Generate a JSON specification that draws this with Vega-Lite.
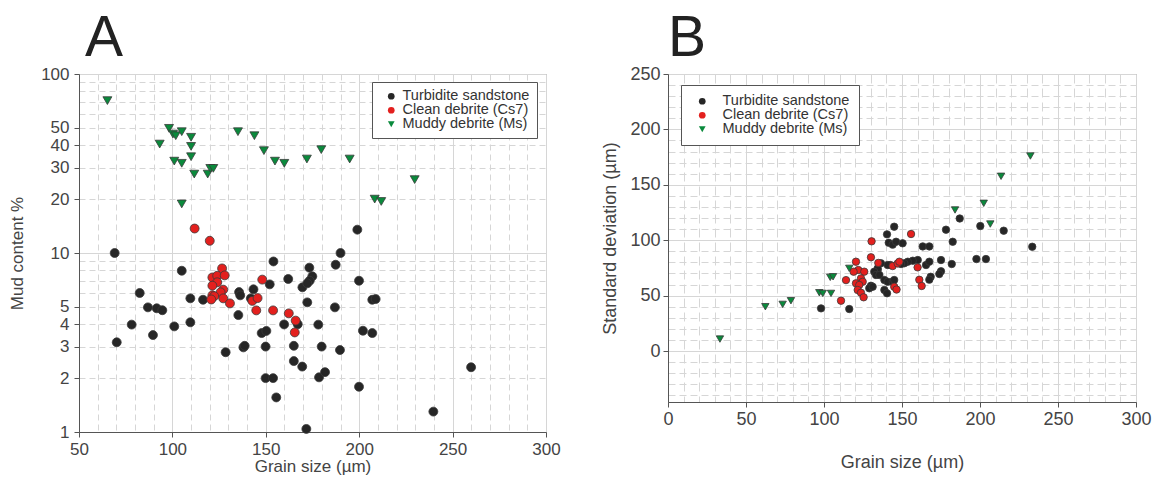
{
  "$schema": "https://vega.github.io/schema/vega-lite/v6.json",
  "background": "white",
  "padding": {"left": 8, "top": 9, "right": 4, "bottom": 0},
  "spacing": 40,
  "config": {
    "font": "Liberation Sans",
    "view": {"stroke": "#8a8a8a", "strokeWidth": 1},
    "axis": {
      "labelFont": "Liberation Sans",
      "titleFont": "Liberation Sans",
      "labelColor": "#444",
      "titleColor": "#444",
      "titleFontWeight": "normal",
      "domainColor": "#555",
      "tickColor": "#555",
      "gridColor": "#d6d6d6",
      "gridWidth": 1,
      "labelFlush": false
    },
    "legend": {
      "labelFont": "Liberation Sans",
      "labelColor": "#333",
      "fillColor": "white",
      "strokeColor": "#666"
    },
    "title": {"font": "Liberation Sans", "fontWeight": "normal", "color": "#222", "anchor": "start", "frame": "group"}
  },
  "datasets": {
    "a": [
      {"g": "Turbidite sandstone", "x": 69.1, "y": 10},
      {"g": "Turbidite sandstone", "x": 70.2, "y": 3.17},
      {"g": "Turbidite sandstone", "x": 78.2, "y": 3.98},
      {"g": "Turbidite sandstone", "x": 82.5, "y": 5.98},
      {"g": "Turbidite sandstone", "x": 86.9, "y": 4.97},
      {"g": "Turbidite sandstone", "x": 89.6, "y": 3.48},
      {"g": "Turbidite sandstone", "x": 91.6, "y": 4.91},
      {"g": "Turbidite sandstone", "x": 94.6, "y": 4.79},
      {"g": "Turbidite sandstone", "x": 101, "y": 3.89},
      {"g": "Turbidite sandstone", "x": 105, "y": 7.96},
      {"g": "Turbidite sandstone", "x": 109.6, "y": 5.58},
      {"g": "Turbidite sandstone", "x": 109.6, "y": 4.1},
      {"g": "Turbidite sandstone", "x": 116.4, "y": 5.48},
      {"g": "Turbidite sandstone", "x": 128.5, "y": 2.79},
      {"g": "Turbidite sandstone", "x": 135.3, "y": 4.5},
      {"g": "Turbidite sandstone", "x": 135.7, "y": 6.05},
      {"g": "Turbidite sandstone", "x": 136.3, "y": 5.8},
      {"g": "Turbidite sandstone", "x": 138, "y": 2.97},
      {"g": "Turbidite sandstone", "x": 138.7, "y": 3.03},
      {"g": "Turbidite sandstone", "x": 143.4, "y": 6.27},
      {"g": "Turbidite sandstone", "x": 142, "y": 5.58},
      {"g": "Turbidite sandstone", "x": 147.8, "y": 3.57},
      {"g": "Turbidite sandstone", "x": 150.3, "y": 3.67},
      {"g": "Turbidite sandstone", "x": 149.9, "y": 3.0},
      {"g": "Turbidite sandstone", "x": 149.9, "y": 2.0},
      {"g": "Turbidite sandstone", "x": 153.9, "y": 2.0},
      {"g": "Turbidite sandstone", "x": 155.6, "y": 1.56},
      {"g": "Turbidite sandstone", "x": 152.1, "y": 6.68},
      {"g": "Turbidite sandstone", "x": 154.1, "y": 8.97},
      {"g": "Turbidite sandstone", "x": 159.8, "y": 3.99},
      {"g": "Turbidite sandstone", "x": 162, "y": 7.16},
      {"g": "Turbidite sandstone", "x": 165, "y": 3.03},
      {"g": "Turbidite sandstone", "x": 165, "y": 2.49},
      {"g": "Turbidite sandstone", "x": 167.1, "y": 4.0},
      {"g": "Turbidite sandstone", "x": 169.5, "y": 2.32},
      {"g": "Turbidite sandstone", "x": 169.6, "y": 6.43},
      {"g": "Turbidite sandstone", "x": 171.7, "y": 1.04},
      {"g": "Turbidite sandstone", "x": 172.2, "y": 5.3},
      {"g": "Turbidite sandstone", "x": 173.3, "y": 8.28},
      {"g": "Turbidite sandstone", "x": 174.9, "y": 7.41},
      {"g": "Turbidite sandstone", "x": 173.5, "y": 7.0},
      {"g": "Turbidite sandstone", "x": 172.2, "y": 6.77},
      {"g": "Turbidite sandstone", "x": 178.1, "y": 3.98},
      {"g": "Turbidite sandstone", "x": 179.9, "y": 3.0},
      {"g": "Turbidite sandstone", "x": 178.5, "y": 2.02},
      {"g": "Turbidite sandstone", "x": 181.7, "y": 2.16},
      {"g": "Turbidite sandstone", "x": 187, "y": 4.97},
      {"g": "Turbidite sandstone", "x": 187.4, "y": 8.6},
      {"g": "Turbidite sandstone", "x": 190, "y": 10},
      {"g": "Turbidite sandstone", "x": 189.7, "y": 2.87},
      {"g": "Turbidite sandstone", "x": 199, "y": 13.5},
      {"g": "Turbidite sandstone", "x": 199.9, "y": 7.0},
      {"g": "Turbidite sandstone", "x": 199.9, "y": 1.79},
      {"g": "Turbidite sandstone", "x": 202, "y": 3.68},
      {"g": "Turbidite sandstone", "x": 207, "y": 3.57},
      {"g": "Turbidite sandstone", "x": 207, "y": 5.48},
      {"g": "Turbidite sandstone", "x": 208.8, "y": 5.53},
      {"g": "Turbidite sandstone", "x": 239.7, "y": 1.3},
      {"g": "Turbidite sandstone", "x": 259.9, "y": 2.3},
      {"g": "Clean debrite (Cs7)", "x": 111.9, "y": 13.7},
      {"g": "Clean debrite (Cs7)", "x": 120, "y": 11.7},
      {"g": "Clean debrite (Cs7)", "x": 126.6, "y": 8.2},
      {"g": "Clean debrite (Cs7)", "x": 121.4, "y": 7.3},
      {"g": "Clean debrite (Cs7)", "x": 124, "y": 7.46},
      {"g": "Clean debrite (Cs7)", "x": 128, "y": 7.5},
      {"g": "Clean debrite (Cs7)", "x": 124, "y": 6.86},
      {"g": "Clean debrite (Cs7)", "x": 121.4, "y": 6.57},
      {"g": "Clean debrite (Cs7)", "x": 127.2, "y": 6.24},
      {"g": "Clean debrite (Cs7)", "x": 125.8, "y": 6.03},
      {"g": "Clean debrite (Cs7)", "x": 121.4, "y": 5.8},
      {"g": "Clean debrite (Cs7)", "x": 122.4, "y": 5.74},
      {"g": "Clean debrite (Cs7)", "x": 120.8, "y": 5.5},
      {"g": "Clean debrite (Cs7)", "x": 127.2, "y": 5.58},
      {"g": "Clean debrite (Cs7)", "x": 130.8, "y": 5.23},
      {"g": "Clean debrite (Cs7)", "x": 148.1, "y": 7.1},
      {"g": "Clean debrite (Cs7)", "x": 142.8, "y": 5.4},
      {"g": "Clean debrite (Cs7)", "x": 145.6, "y": 5.6},
      {"g": "Clean debrite (Cs7)", "x": 144.9, "y": 4.78},
      {"g": "Clean debrite (Cs7)", "x": 153.9, "y": 4.78},
      {"g": "Clean debrite (Cs7)", "x": 162.3, "y": 4.6},
      {"g": "Clean debrite (Cs7)", "x": 166, "y": 4.19},
      {"g": "Clean debrite (Cs7)", "x": 165.5, "y": 3.6},
      {"g": "Muddy debrite (Ms)", "x": 65.2, "y": 71},
      {"g": "Muddy debrite (Ms)", "x": 98.2, "y": 49.7},
      {"g": "Muddy debrite (Ms)", "x": 100.3, "y": 46.2},
      {"g": "Muddy debrite (Ms)", "x": 101.8, "y": 45.2},
      {"g": "Muddy debrite (Ms)", "x": 105, "y": 47.6},
      {"g": "Muddy debrite (Ms)", "x": 110, "y": 44.3},
      {"g": "Muddy debrite (Ms)", "x": 93.2, "y": 40.6},
      {"g": "Muddy debrite (Ms)", "x": 110, "y": 39.4},
      {"g": "Muddy debrite (Ms)", "x": 110, "y": 34.5},
      {"g": "Muddy debrite (Ms)", "x": 101, "y": 32.6},
      {"g": "Muddy debrite (Ms)", "x": 105, "y": 31.7},
      {"g": "Muddy debrite (Ms)", "x": 111.7, "y": 27.6},
      {"g": "Muddy debrite (Ms)", "x": 118.9, "y": 27.6},
      {"g": "Muddy debrite (Ms)", "x": 120.3, "y": 29.7},
      {"g": "Muddy debrite (Ms)", "x": 121.9, "y": 29.7},
      {"g": "Muddy debrite (Ms)", "x": 105, "y": 18.8},
      {"g": "Muddy debrite (Ms)", "x": 135.1, "y": 47.6},
      {"g": "Muddy debrite (Ms)", "x": 143.9, "y": 45.2},
      {"g": "Muddy debrite (Ms)", "x": 149, "y": 37.3},
      {"g": "Muddy debrite (Ms)", "x": 154.9, "y": 32.6},
      {"g": "Muddy debrite (Ms)", "x": 159.9, "y": 31.7},
      {"g": "Muddy debrite (Ms)", "x": 172, "y": 33.5},
      {"g": "Muddy debrite (Ms)", "x": 179.7, "y": 37.8},
      {"g": "Muddy debrite (Ms)", "x": 194.9, "y": 33.5},
      {"g": "Muddy debrite (Ms)", "x": 229.7, "y": 25.7},
      {"g": "Muddy debrite (Ms)", "x": 208.3, "y": 20},
      {"g": "Muddy debrite (Ms)", "x": 211.8, "y": 19.4}
    ],
    "b": [
      {"g": "Turbidite sandstone", "x": 98.1, "y": 38.5},
      {"g": "Turbidite sandstone", "x": 116.2, "y": 37.9},
      {"g": "Turbidite sandstone", "x": 130.1, "y": 58.9},
      {"g": "Turbidite sandstone", "x": 134.4, "y": 73.1},
      {"g": "Turbidite sandstone", "x": 145, "y": 112.2},
      {"g": "Turbidite sandstone", "x": 140.4, "y": 105.3},
      {"g": "Turbidite sandstone", "x": 141.5, "y": 97.7},
      {"g": "Turbidite sandstone", "x": 144, "y": 96},
      {"g": "Turbidite sandstone", "x": 146.2, "y": 98.6},
      {"g": "Turbidite sandstone", "x": 150.4, "y": 97.2},
      {"g": "Turbidite sandstone", "x": 178.2, "y": 109.5},
      {"g": "Turbidite sandstone", "x": 182.5, "y": 98.6},
      {"g": "Turbidite sandstone", "x": 187, "y": 119.6},
      {"g": "Turbidite sandstone", "x": 200.2, "y": 112.8},
      {"g": "Turbidite sandstone", "x": 215.2, "y": 108.6},
      {"g": "Turbidite sandstone", "x": 233.5, "y": 94.1},
      {"g": "Turbidite sandstone", "x": 163.3, "y": 94.4},
      {"g": "Turbidite sandstone", "x": 167.5, "y": 94.4},
      {"g": "Turbidite sandstone", "x": 197.7, "y": 83},
      {"g": "Turbidite sandstone", "x": 203.8, "y": 83},
      {"g": "Turbidite sandstone", "x": 175, "y": 82.1},
      {"g": "Turbidite sandstone", "x": 181.9, "y": 78.5},
      {"g": "Turbidite sandstone", "x": 175, "y": 72},
      {"g": "Turbidite sandstone", "x": 173.9, "y": 69.5},
      {"g": "Turbidite sandstone", "x": 168.4, "y": 67},
      {"g": "Turbidite sandstone", "x": 167.5, "y": 64.4},
      {"g": "Turbidite sandstone", "x": 160.1, "y": 82.1},
      {"g": "Turbidite sandstone", "x": 156.9, "y": 81.5},
      {"g": "Turbidite sandstone", "x": 153.7, "y": 80.6},
      {"g": "Turbidite sandstone", "x": 151.5, "y": 79.2},
      {"g": "Turbidite sandstone", "x": 149.4, "y": 78.5},
      {"g": "Turbidite sandstone", "x": 142.5, "y": 77.6},
      {"g": "Turbidite sandstone", "x": 140.8, "y": 77.6},
      {"g": "Turbidite sandstone", "x": 136.5, "y": 79.2},
      {"g": "Turbidite sandstone", "x": 134.4, "y": 74.6},
      {"g": "Turbidite sandstone", "x": 132.2, "y": 71.6},
      {"g": "Turbidite sandstone", "x": 133.3, "y": 68.6},
      {"g": "Turbidite sandstone", "x": 135.5, "y": 68.6},
      {"g": "Turbidite sandstone", "x": 138.7, "y": 64.1},
      {"g": "Turbidite sandstone", "x": 140.8, "y": 62.5},
      {"g": "Turbidite sandstone", "x": 144, "y": 62.5},
      {"g": "Turbidite sandstone", "x": 145, "y": 64.1},
      {"g": "Turbidite sandstone", "x": 138.7, "y": 55.1},
      {"g": "Turbidite sandstone", "x": 140.4, "y": 52.1},
      {"g": "Turbidite sandstone", "x": 129, "y": 56.6},
      {"g": "Turbidite sandstone", "x": 131.2, "y": 58},
      {"g": "Turbidite sandstone", "x": 165.4, "y": 77.6},
      {"g": "Turbidite sandstone", "x": 167.5, "y": 80.6},
      {"g": "Clean debrite (Cs7)", "x": 130.5, "y": 99},
      {"g": "Clean debrite (Cs7)", "x": 155.8, "y": 105.6},
      {"g": "Clean debrite (Cs7)", "x": 130.1, "y": 84.6},
      {"g": "Clean debrite (Cs7)", "x": 134.8, "y": 79.5},
      {"g": "Clean debrite (Cs7)", "x": 144, "y": 76.7},
      {"g": "Clean debrite (Cs7)", "x": 147.2, "y": 79},
      {"g": "Clean debrite (Cs7)", "x": 148.3, "y": 80.6},
      {"g": "Clean debrite (Cs7)", "x": 160, "y": 75.5},
      {"g": "Clean debrite (Cs7)", "x": 161.1, "y": 64.3},
      {"g": "Clean debrite (Cs7)", "x": 162.6, "y": 58.7},
      {"g": "Clean debrite (Cs7)", "x": 145, "y": 58},
      {"g": "Clean debrite (Cs7)", "x": 146.5, "y": 55.5},
      {"g": "Clean debrite (Cs7)", "x": 120.5, "y": 80.6},
      {"g": "Clean debrite (Cs7)", "x": 122, "y": 73.1},
      {"g": "Clean debrite (Cs7)", "x": 125.8, "y": 71.6},
      {"g": "Clean debrite (Cs7)", "x": 119, "y": 71.6},
      {"g": "Clean debrite (Cs7)", "x": 114.1, "y": 64},
      {"g": "Clean debrite (Cs7)", "x": 123.7, "y": 65.6},
      {"g": "Clean debrite (Cs7)", "x": 124.8, "y": 62.5},
      {"g": "Clean debrite (Cs7)", "x": 120.5, "y": 61.1},
      {"g": "Clean debrite (Cs7)", "x": 122.6, "y": 59.6},
      {"g": "Clean debrite (Cs7)", "x": 121.6, "y": 55.1},
      {"g": "Clean debrite (Cs7)", "x": 123.7, "y": 52.6},
      {"g": "Clean debrite (Cs7)", "x": 125.4, "y": 48.5},
      {"g": "Clean debrite (Cs7)", "x": 110.9, "y": 45.4},
      {"g": "Muddy debrite (Ms)", "x": 33.3, "y": 10.8},
      {"g": "Muddy debrite (Ms)", "x": 62.4, "y": 40},
      {"g": "Muddy debrite (Ms)", "x": 73.5, "y": 42.1},
      {"g": "Muddy debrite (Ms)", "x": 78.8, "y": 45.4},
      {"g": "Muddy debrite (Ms)", "x": 97, "y": 52.6},
      {"g": "Muddy debrite (Ms)", "x": 99.2, "y": 52},
      {"g": "Muddy debrite (Ms)", "x": 104.5, "y": 52},
      {"g": "Muddy debrite (Ms)", "x": 104, "y": 66.5},
      {"g": "Muddy debrite (Ms)", "x": 105.8, "y": 67},
      {"g": "Muddy debrite (Ms)", "x": 116.2, "y": 74.6},
      {"g": "Muddy debrite (Ms)", "x": 184, "y": 127.3},
      {"g": "Muddy debrite (Ms)", "x": 202.4, "y": 133.3},
      {"g": "Muddy debrite (Ms)", "x": 206.6, "y": 114.6},
      {"g": "Muddy debrite (Ms)", "x": 213.5, "y": 157.7},
      {"g": "Muddy debrite (Ms)", "x": 232.3, "y": 176}
    ]
  },
  "resolve": {
    "scale": {"x": "independent", "y": "independent", "color": "independent", "shape": "independent"},
    "legend": {"color": "independent", "shape": "independent"}
  },
  "hconcat": [
    {
      "width": 467,
      "height": 358,
      "title": {"text": "A", "fontSize": 57, "offset": -3, "dx": 6},
      "data": {"name": "a"},
      "mark": {"type": "point", "filled": true, "opacity": 1, "size": 80, "stroke": "#3a3a3a", "strokeWidth": 0.8},
      "encoding": {
        "x": {
          "field": "x", "type": "quantitative",
          "scale": {"domain": [50, 300], "nice": false, "zero": false},
          "axis": {
            "title": "Grain size (µm)", "titleFontSize": 17, "titlePadding": 1,
            "labelFontSize": 17, "labelPadding": 4,
            "values": [50, 60, 70, 80, 90, 100, 110, 120, 130, 140, 150, 160, 170, 180, 190, 200, 210, 220, 230, 240, 250, 260, 270, 280, 290, 300],
            "labelExpr": "datum.value % 50 === 0 ? datum.label : ''",
            "tickSize": {"condition": {"test": "datum.value % 50 === 0", "value": 5}, "value": 0},
            "gridDash": {"condition": {"test": "datum.value % 50 === 0", "value": []}, "value": [6, 4]},
            "labelOverlap": false
          }
        },
        "y": {
          "field": "y", "type": "quantitative",
          "scale": {"type": "log", "domain": [1, 100], "nice": false},
          "axis": {
            "title": "Mud content %", "titleFontSize": 17, "titlePadding": 14,
            "labelFontSize": 17, "labelPadding": 5,
            "values": [1, 2, 3, 4, 5, 6, 7, 8, 9, 10, 20, 30, 40, 50, 60, 70, 80, 90, 100],
            "labelExpr": "indexof([1, 2, 3, 4, 5, 10, 20, 30, 40, 50, 100], datum.value) >= 0 ? datum.label : ''",
            "tickSize": {"condition": {"test": "indexof([1, 2, 3, 4, 5, 10, 20, 30, 40, 50, 100], datum.value) >= 0", "value": 5}, "value": 0},
            "gridDash": {"condition": {"test": "indexof([1, 10, 100], datum.value) >= 0", "value": []}, "value": [6, 4]},
            "labelOverlap": false
          }
        },
        "color": {
          "field": "g", "type": "nominal",
          "scale": {"domain": ["Turbidite sandstone", "Clean debrite (Cs7)", "Muddy debrite (Ms)"], "range": ["#262626", "#e3201e", "#0a8a3c"]},
          "legend": {"title": null, "orient": "none", "legendX": 293, "legendY": 8, "padding": 7, "labelFontSize": 14.5, "labelOffset": 4, "rowPadding": -2.5, "symbolOffset": 5, "symbolSize": 45, "symbolStrokeWidth": 0, "strokeColor": "#555", "cornerRadius": 0}
        },
        "shape": {
          "field": "g", "type": "nominal",
          "scale": {"domain": ["Turbidite sandstone", "Clean debrite (Cs7)", "Muddy debrite (Ms)"], "range": ["circle", "circle", "triangle-down"]},
          "legend": {"title": null, "orient": "none", "legendX": 293, "legendY": 8, "padding": 7, "labelFontSize": 14.5, "labelOffset": 4, "rowPadding": -2.5, "symbolOffset": 5, "symbolSize": 45, "symbolStrokeWidth": 0, "strokeColor": "#555", "cornerRadius": 0}
        }
      }
    },
    {
      "width": 468,
      "height": 328,
      "title": {"text": "B", "fontSize": 57, "offset": -3, "dx": 0},
      "data": {"name": "b"},
      "mark": {"type": "point", "filled": true, "opacity": 1, "size": 55, "stroke": "#3a3a3a", "strokeWidth": 0.8},
      "encoding": {
        "x": {
          "field": "x", "type": "quantitative",
          "scale": {"domain": [0, 300], "nice": false},
          "axis": {
            "title": "Grain size (µm)", "titleFontSize": 18, "titlePadding": 25,
            "labelFontSize": 18, "labelPadding": 3,
            "values": [0, 10, 20, 30, 40, 50, 60, 70, 80, 90, 100, 110, 120, 130, 140, 150, 160, 170, 180, 190, 200, 210, 220, 230, 240, 250, 260, 270, 280, 290, 300],
            "labelExpr": "datum.value % 50 === 0 ? datum.label : ''",
            "tickSize": {"condition": {"test": "datum.value % 50 === 0", "value": 5}, "value": 0},
            "gridDash": {"condition": {"test": "datum.value % 50 === 0", "value": []}, "value": [9, 5]},
            "labelOverlap": false
          }
        },
        "y": {
          "field": "y", "type": "quantitative",
          "scale": {"domain": [-46, 250], "nice": false, "zero": false},
          "axis": {
            "title": "Standard deviation (µm)", "titleFontSize": 18, "titlePadding": 10,
            "labelFontSize": 18, "labelPadding": 3,
            "values": [-40, -30, -20, -10, 0, 10, 20, 30, 40, 50, 60, 70, 80, 90, 100, 110, 120, 130, 140, 150, 160, 170, 180, 190, 200, 210, 220, 230, 240, 250],
            "labelExpr": "datum.value % 50 === 0 && datum.value >= 0 ? datum.label : ''",
            "tickSize": {"condition": {"test": "datum.value % 50 === 0 && datum.value >= 0", "value": 5}, "value": 0},
            "gridDash": {"condition": {"test": "datum.value % 50 === 0", "value": []}, "value": [7, 4]},
            "labelOverlap": false
          }
        },
        "color": {
          "field": "g", "type": "nominal",
          "scale": {"domain": ["Turbidite sandstone", "Clean debrite (Cs7)", "Muddy debrite (Ms)"], "range": ["#262626", "#e3201e", "#0a8a3c"]},
          "legend": {"title": null, "orient": "none", "legendX": 13, "legendY": 11, "padding": 9, "labelFontSize": 14.5, "labelOffset": 13, "rowPadding": -1, "symbolOffset": 5, "symbolSize": 45, "symbolStrokeWidth": 0, "strokeColor": "#555", "cornerRadius": 0}
        },
        "shape": {
          "field": "g", "type": "nominal",
          "scale": {"domain": ["Turbidite sandstone", "Clean debrite (Cs7)", "Muddy debrite (Ms)"], "range": ["circle", "circle", "triangle-down"]},
          "legend": {"title": null, "orient": "none", "legendX": 13, "legendY": 11, "padding": 9, "labelFontSize": 14.5, "labelOffset": 13, "rowPadding": -1, "symbolOffset": 5, "symbolSize": 45, "symbolStrokeWidth": 0, "strokeColor": "#555", "cornerRadius": 0}
        }
      }
    }
  ]
}
